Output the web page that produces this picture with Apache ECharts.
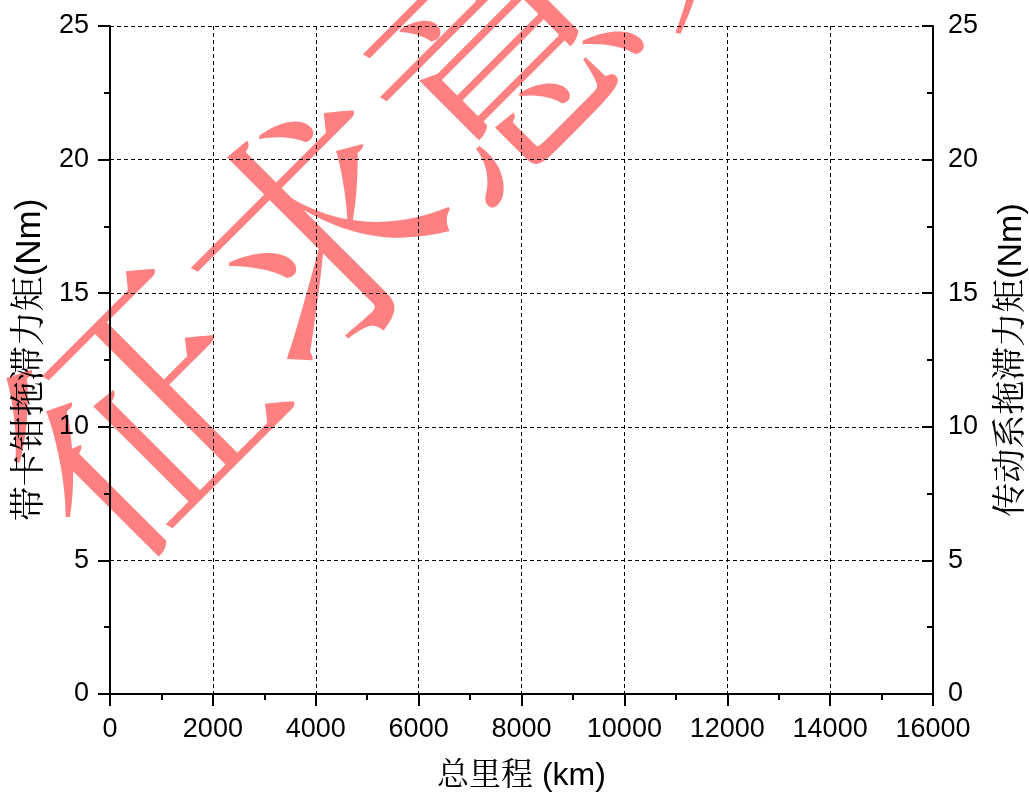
<!DOCTYPE html>
<html>
<head>
<meta charset="utf-8">
<script src="https://cdn.jsdelivr.net/npm/echarts@6/dist/echarts.min.js"></script>
<style>
  html, body { margin: 0; padding: 0; background: #fff; }
  #chart { width: 1029px; height: 798px; }
</style>
</head>
<body>
<div id="chart"></div>
<script>
// Axis ranges and tick steps
const xRange = [0, 16000];
const xStep = 2000;
const yRange = [0, 25];
const yStep = 5;

// Axis titles
const xTitle = '总里程 (km)';
const yLeftTitle = '带卡钳拖滞力矩(Nm)';
const yRightTitle = '传动系拖滞力矩(Nm)';

// Measured series (none recorded yet)
const caliperDrag = [];
const drivelineDrag = [];

// Draft stamp
const stampText = '征求意见';

const latin = '"Liberation Sans", Arial, sans-serif';
const cjk = '"Liberation Sans", "Noto Serif CJK SC", "Noto Sans CJK SC", sans-serif';

const chart = echarts.init(document.getElementById('chart'), null, { renderer: 'canvas' });

const axisLine = { show: true, onZero: false, lineStyle: { color: '#000', width: 2 } };
const dashed = { show: true, lineStyle: { color: '#000', width: 1, type: [4, 3] } };
const plain = v => String(v);

chart.setOption({
  backgroundColor: '#fff',
  animation: false,
  grid: { left: 110, right: 96, top: 26, bottom: 104, containLabel: false, outerBoundsMode: 'none' },
  graphic: [{
    type: 'text',
    z: -10,
    x: 406,
    y: 143,
    rotation: Math.PI / 4,
    style: {
      text: stampText,
      fill: '#ff8080',
      font: 'normal 256px "Noto Serif CJK SC", "Noto Sans CJK SC", serif',
      align: 'center',
      verticalAlign: 'middle'
    }
  }],
  xAxis: {
    type: 'value',
    min: xRange[0],
    max: xRange[1],
    interval: xStep,
    name: xTitle,
    nameLocation: 'middle',
    nameGap: 66,
    nameTextStyle: { fontSize: 32, color: '#000', fontFamily: cjk },
    axisLine: axisLine,
    axisTick: { show: true, inside: false, length: 12, lineStyle: { color: '#000', width: 2 } },
    minorTick: { show: true, splitNumber: 2, length: 6, lineStyle: { color: '#000', width: 2 } },
    axisLabel: { fontSize: 27, color: '#000', fontFamily: latin, margin: 22, formatter: plain },
    splitLine: dashed
  },
  yAxis: [{
    type: 'value',
    position: 'left',
    min: yRange[0],
    max: yRange[1],
    interval: yStep,
    name: yLeftTitle,
    nameLocation: 'middle',
    nameRotate: 90,
    nameGap: 62,
    nameTextStyle: { fontSize: 35, color: '#000', fontFamily: cjk },
    axisLine: axisLine,
    axisTick: { show: true, inside: false, length: 12, lineStyle: { color: '#000', width: 2 } },
    minorTick: { show: true, splitNumber: 2, length: 6, lineStyle: { color: '#000', width: 2 } },
    axisLabel: { fontSize: 27, color: '#000', fontFamily: latin, margin: 21, formatter: plain },
    splitLine: dashed
  }, {
    type: 'value',
    position: 'right',
    min: yRange[0],
    max: yRange[1],
    interval: yStep,
    name: yRightTitle,
    nameLocation: 'middle',
    nameRotate: 90,
    nameGap: 62,
    nameTextStyle: { fontSize: 34, color: '#000', fontFamily: cjk },
    axisLine: axisLine,
    axisTick: { show: true, inside: true, length: 11, lineStyle: { color: '#000', width: 2 } },
    minorTick: { show: true, splitNumber: 2, length: 6, lineStyle: { color: '#000', width: 2 } },
    axisLabel: { fontSize: 27, color: '#000', fontFamily: latin, margin: 15, formatter: plain },
    splitLine: { show: false }
  }],
  series: [
    { type: 'line', yAxisIndex: 0, data: caliperDrag, showSymbol: false },
    { type: 'line', yAxisIndex: 1, data: drivelineDrag, showSymbol: false }
  ]
});
</script>
</body>
</html>
